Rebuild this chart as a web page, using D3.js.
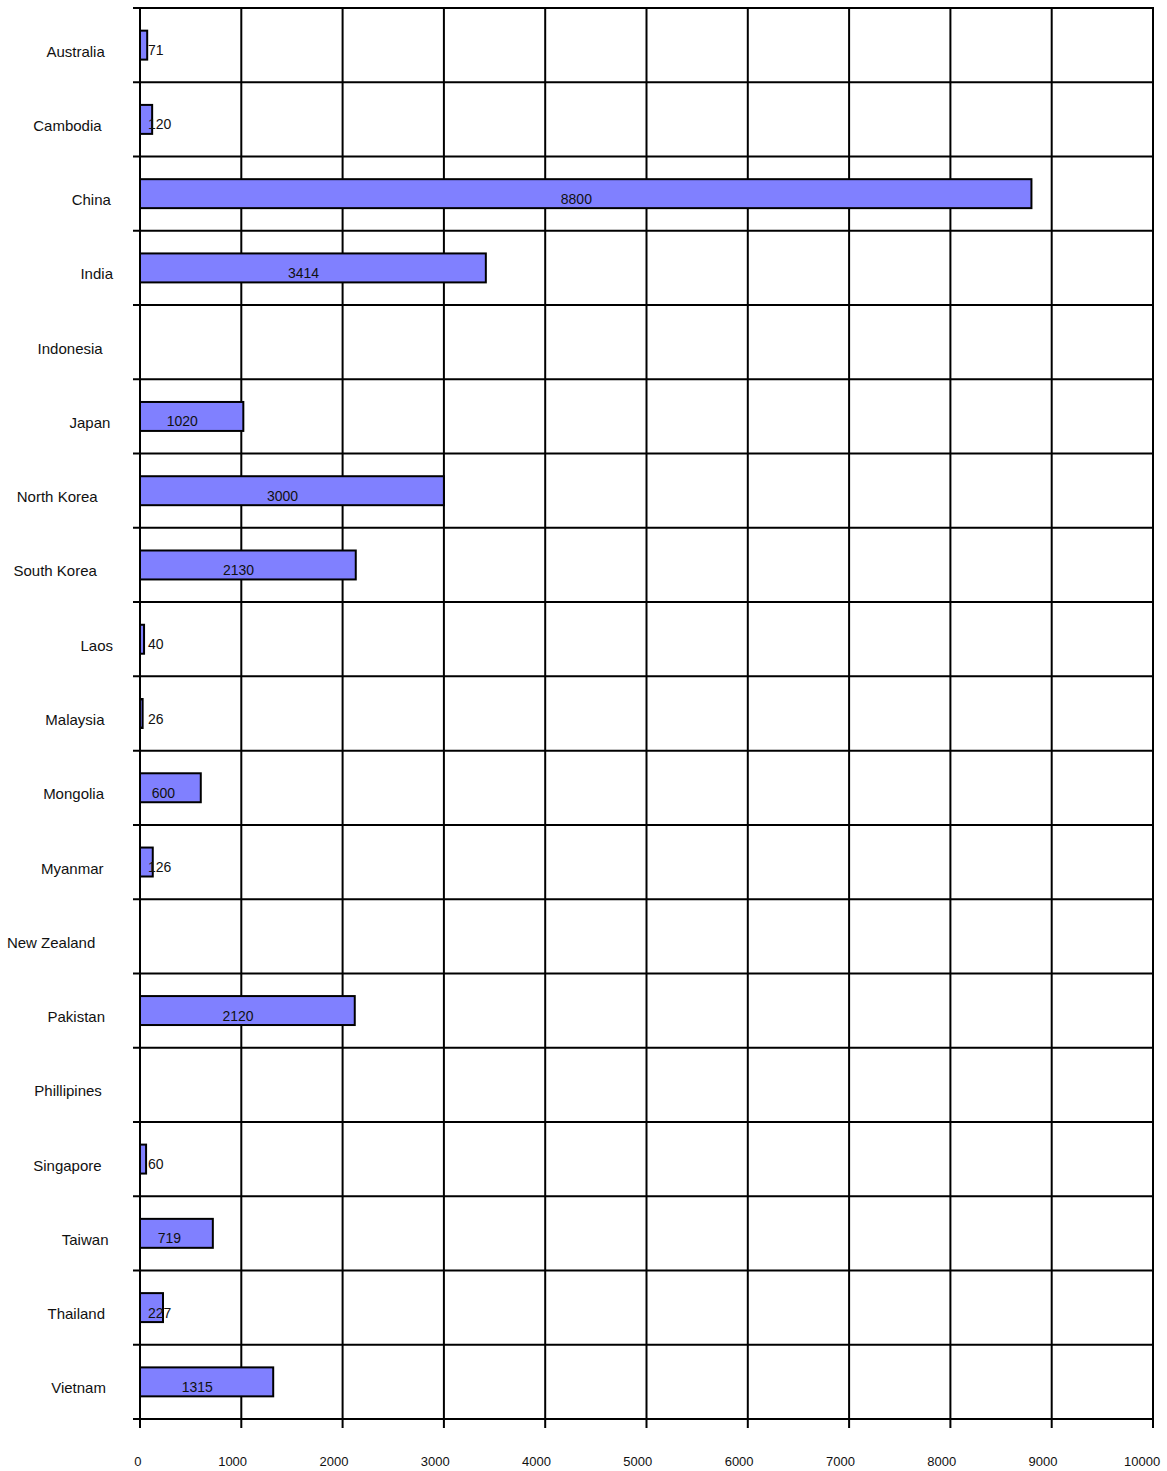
<!DOCTYPE html>
<html>
<head>
<meta charset="utf-8">
<script src="https://cdn.jsdelivr.net/npm/d3@7"></script>
<style>
  html, body { margin: 0; padding: 0; background: #fff; }
  svg { display: block; }
  text { font-family: "Liberation Sans", Arial, sans-serif; fill: #111; }
</style>
</head>
<body>
<svg id="chart" width="1167" height="1471"></svg>
<script>
const categories = ["Australia","Cambodia","China","India","Indonesia","Japan","North Korea","South Korea","Laos","Malaysia","Mongolia","Myanmar","New Zealand","Pakistan","Phillipines","Singapore","Taiwan","Thailand","Vietnam"];
const values = [71,120,8800,3414,null,1020,3000,2130,40,26,600,126,null,2120,null,60,719,227,1315];
const xTicks = [0,1000,2000,3000,4000,5000,6000,7000,8000,9000,10000];

(function () {
const plotLeft = 140, plotRight = 1153, plotTop = 8, plotBottom = 1419;

const svg = d3.select("#chart");
const x = d3.scaleLinear().domain([0, 10000]).range([plotLeft, plotRight]);
const y = d3.scaleBand().domain(categories).range([plotTop, plotBottom]).paddingInner(0).paddingOuter(0);
const barH = y.bandwidth() * 0.39;

// vertical gridlines (with ticks below)
svg.append("g").selectAll("line").data(xTicks).join("line")
  .attr("x1", d => x(d)).attr("x2", d => x(d))
  .attr("y1", plotTop).attr("y2", plotBottom + 9)
  .attr("stroke", "#000").attr("stroke-width", 2);

// horizontal gridlines (with ticks left)
const hLines = categories.map(c => y(c)).concat([plotBottom]);
svg.append("g").selectAll("line").data(hLines).join("line")
  .attr("x1", plotLeft - 7).attr("x2", plotRight + 1)
  .attr("y1", d => d).attr("y2", d => d)
  .attr("stroke", "#000").attr("stroke-width", 2);

// bars
const data = categories.map((c, i) => ({c, v: values[i]}));
svg.append("g").selectAll("rect").data(data.filter(d => d.v != null)).join("rect")
  .attr("x", x(0))
  .attr("y", d => y(d.c) + y.bandwidth() / 2 - barH / 2)
  .attr("width", d => x(d.v) - x(0))
  .attr("height", barH)
  .attr("fill", "#8080FF")
  .attr("stroke", "#000").attr("stroke-width", 2);

// value labels
svg.append("g").selectAll("text").data(data.filter(d => d.v != null)).join("text")
  .attr("y", d => y(d.c) + y.bandwidth() / 2 + 10)
  .style("font-size", "14px")
  .text(d => d.v)
  .each(function(d) {
    const w = this.getComputedTextLength();
    const cx = (x(0) + x(d.v)) / 2;
    d3.select(this).attr("x", Math.max(x(0) + 8, cx - 0.8 * w));
  });

// category labels
svg.append("g").selectAll("text").data(categories).join("text")
  .attr("y", d => y(d) + y.bandwidth() / 2 + 11.5)
  .style("font-size", "15px")
  .text(d => d)
  .each(function() {
    const w = this.getComputedTextLength();
    d3.select(this).attr("x", 123.3 - 1.317 * w);
  });

// x tick labels
svg.append("g").selectAll("text").data(xTicks).join("text")
  .attr("y", 1466)
  .style("font-size", "13px")
  .text(d => d)
  .each(function(d) {
    const w = this.getComputedTextLength();
    d3.select(this).attr("x", x(d) - 0.8 * w);
  });
})();
</script>
</body>
</html>
